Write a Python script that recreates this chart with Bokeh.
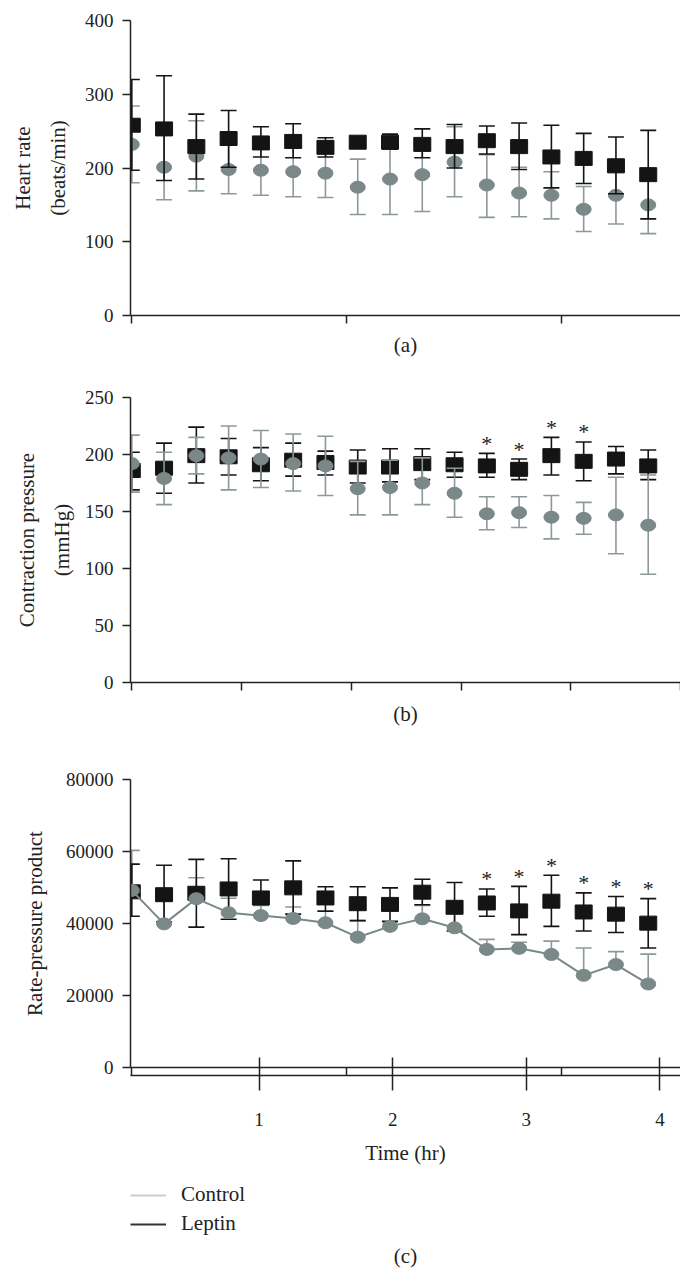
from bokeh.plotting import figure
from bokeh.models import Range1d, LinearAxis, FixedTicker, Title, Legend, LegendItem
from bokeh.layouts import column
from bokeh.embed import file_html
from bokeh.resources import INLINE
from bokeh.core.properties import value

# ---------------- data ----------------
idx = list(range(17))  # measurement index (one every ~15 min)

# (a) Heart rate (beats/min)
hr_leptin = [258, 253, 229, 240, 234, 236, 228, 235, 235, 232, 229, 237, 229, 215, 213, 203, 191]
hr_leptin_hi = [320, 325, 273, 278, 256, 260, 241, 240, 246, 253, 259, 257, 261, 258, 247, 242, 251]
hr_leptin_lo = [197, 183, 185, 201, 215, 214, 215, 230, 226, 214, 200, 219, 198, 173, 179, 165, 131]
hr_control = [232, 201, 216, 198, 197, 195, 193, 174, 185, 191, 208, 177, 166, 163, 144, 163, 150]
hr_control_hi = [284, 245, 264, 231, 231, 229, 226, 212, 226, 238, 256, 218, 201, 195, 175, 194, 189]
hr_control_lo = [180, 157, 169, 165, 163, 161, 160, 137, 137, 141, 161, 133, 134, 131, 114, 124, 111]

# (b) Contraction pressure (mmHg)
cp_leptin = [186, 188, 199, 198, 191, 195, 193, 189, 189, 192, 191, 190, 187, 199, 194, 196, 190]
cp_leptin_hi = [202, 210, 224, 214, 206, 210, 203, 204, 205, 205, 202, 201, 196, 215, 211, 207, 204]
cp_leptin_lo = [169, 166, 175, 182, 177, 181, 182, 175, 176, 178, 180, 180, 178, 182, 177, 183, 178]
cp_control = [192, 179, 199, 197, 196, 192, 190, 170, 171, 175, 166, 148, 149, 145, 144, 147, 138]
cp_control_hi = [217, 202, 215, 225, 221, 218, 216, 194, 195, 197, 188, 163, 163, 164, 158, 180, 182]
cp_control_lo = [167, 156, 183, 169, 171, 168, 164, 147, 147, 156, 145, 134, 136, 126, 130, 113, 95]
cp_sig = [11, 12, 13, 14]

# (c) Rate-pressure product
rpp_leptin = [48800, 48000, 48400, 49600, 47100, 49900, 47100, 45500, 45300, 48700, 44500, 45700, 43500, 46200, 43200, 42600, 40100]
rpp_leptin_hi = [56500, 56200, 57800, 58000, 52100, 57400, 50200, 50200, 49900, 52300, 51400, 49600, 50300, 53400, 48500, 47500, 46900]
rpp_leptin_lo = [42000, 40500, 39000, 41200, 45300, 42600, 43400, 40800, 40600, 45200, 37900, 42000, 36900, 39200, 37900, 37500, 33200]
rpp_control = [49200, 39900, 46900, 43000, 42200, 41400, 40200, 36200, 39200, 41300, 38800, 32800, 33100, 31400, 25600, 28600, 23200]
rpp_control_hi = [60300, 47500, 52700, 47000, 45000, 44600, 43500, 40800, 40400, 45000, 43800, 35600, 34800, 35100, 33200, 32200, 31500]
rpp_sig = [11, 12, 13, 14, 15, 16]

time_ticks = [1, 2, 3, 4]
series_names = ["Control", "Leptin"]
captions = ["(a)", "(b)", "(c)"]

# ---------------- style ----------------
FONT = "Liberation Serif"
CTRL = "#7b8888"
CTRL_BAR = "#8d9898"
LEP = "#141414"
AX = "#222222"
FRAME_W = 550
LEFT = 130
X_START, X_END = -0.04, 17.0


def base_panel(frame_h, ymax, yticks, ylabel, xticks, top, bottom, label_standoff):
    p = figure(frame_width=FRAME_W, frame_height=frame_h,
               x_range=Range1d(X_START, X_END), y_range=Range1d(0, ymax),
               output_backend="svg", toolbar_location=None, title=None,
               min_border_left=LEFT, min_border_right=0,
               min_border_top=top, min_border_bottom=bottom)
    p.outline_line_color = None
    p.grid.visible = False
    p.background_fill_color = "white"
    p.border_fill_color = "white"
    xa = p.xaxis[0]
    xa.ticker = FixedTicker(ticks=xticks)
    xa.major_label_overrides = {t: "" for t in xticks}
    xa.major_label_text_font_size = "19px"
    xa.major_label_standoff = 0
    xa.major_tick_in = 0
    xa.major_tick_out = 8
    xa.minor_tick_line_color = None
    ya = p.yaxis[0]
    ya.ticker = FixedTicker(ticks=yticks)
    ya.major_tick_in = 0
    ya.major_tick_out = 8
    ya.minor_tick_line_color = None
    ya.major_label_standoff = 9
    ya.major_label_text_font = FONT
    ya.major_label_text_font_size = "19px"
    ya.major_label_text_color = AX
    ya.axis_label = ylabel
    ya.axis_label_text_font = FONT
    ya.axis_label_text_font_size = "21px"
    ya.axis_label_text_font_style = "normal"
    ya.axis_label_text_color = AX
    ya.axis_label_text_line_height = 1.45
    ya.axis_label_standoff = label_standoff
    for ax in (xa, ya):
        ax.axis_line_color = AX
        ax.axis_line_width = 1.5
        ax.major_tick_line_color = AX
        ax.major_tick_line_width = 1.5
    return p


def bars(p, x, lo, hi, color):
    p.segment(x0=x, y0=lo, x1=x, y1=hi, line_color=color, line_width=1.6)
    p.scatter(x=x, y=hi, marker="dash", size=16, line_color=color, line_width=1.6)
    p.scatter(x=x, y=lo, marker="dash", size=16, line_color=color, line_width=1.6)


def markers_control(p, x, y):
    p.ellipse(x=x, y=y, width=15, height=12, width_units="screen", height_units="screen",
              fill_color=CTRL, line_color=CTRL)


def markers_leptin(p, x, y):
    p.rect(x=x, y=y, width=17, height=14, width_units="screen", height_units="screen",
           fill_color=LEP, line_color=LEP)


def stars(p, sig, hi):
    p.text(x=[idx[i] for i in sig], y=[hi[i] for i in sig], text=["*"] * len(sig),
           text_font=value(FONT), text_font_size="22px", text_align="center",
           text_baseline="middle", y_offset=-10, text_color=AX)


def caption(p, txt, standoff):
    p.add_layout(Title(text=txt, align="center", text_font=FONT, text_font_size="21px",
                       text_font_style="normal", text_color=AX, standoff=standoff), "below")


# ---------------- (a) ----------------
pa = base_panel(295, 400, [0, 100, 200, 300, 400], "Heart rate\n(beats/min)",
                [0, 6.65, 13.3], top=20, bottom=50, label_standoff=12)
bars(pa, idx, hr_control_lo, hr_control_hi, CTRL_BAR)
markers_control(pa, idx, hr_control)
bars(pa, idx, hr_leptin_lo, hr_leptin_hi, LEP)
markers_leptin(pa, idx, hr_leptin)
caption(pa, captions[0], 14)

# ---------------- (b) ----------------
pb = base_panel(285, 250, [0, 50, 100, 150, 200, 250], "Contraction pressure\n(mmHg)",
                [0, 3.4, 6.8, 10.2, 13.6, 17.0], top=32, bottom=58, label_standoff=8)
bars(pb, idx, cp_leptin_lo, cp_leptin_hi, LEP)
markers_leptin(pb, idx, cp_leptin)
bars(pb, idx, cp_control_lo, cp_control_hi, CTRL_BAR)
markers_control(pb, idx, cp_control)
stars(pb, cp_sig, cp_leptin_hi)
caption(pb, captions[1], 18)

# ---------------- (c) ----------------
pc = base_panel(288, 80000, [0, 20000, 40000, 60000, 80000], "Rate-pressure product",
                [0, 6.65, 13.3], top=39, bottom=115, label_standoff=16)
pc.xaxis[0].major_label_standoff = 10
t0 = 0.0374
pc.extra_x_ranges = {"time": Range1d(t0, t0 + FRAME_W / 133.6)}
tax = LinearAxis(x_range_name="time", ticker=FixedTicker(ticks=time_ticks))
tax.major_tick_in = 18
tax.major_tick_out = 15
tax.minor_tick_line_color = None
tax.major_label_standoff = 22
tax.major_label_text_font = FONT
tax.major_label_text_font_size = "19px"
tax.major_label_text_color = AX
tax.axis_label = "Time (hr)"
tax.axis_label_text_font = FONT
tax.axis_label_text_font_size = "21px"
tax.axis_label_text_font_style = "normal"
tax.axis_label_text_color = AX
tax.axis_label_standoff = 12
tax.axis_line_color = AX
tax.axis_line_width = 1.5
tax.major_tick_line_color = AX
tax.major_tick_line_width = 1.5
pc.add_layout(tax, "below")

# control error bars are one-sided (upper)
pc.segment(x0=idx, y0=rpp_control, x1=idx, y1=rpp_control_hi, line_color=CTRL_BAR, line_width=1.6)
pc.scatter(x=idx, y=rpp_control_hi, marker="dash", size=16, line_color=CTRL_BAR, line_width=1.6)
bars(pc, idx, rpp_leptin_lo, rpp_leptin_hi, LEP)
markers_leptin(pc, idx, rpp_leptin)
pc.line(x=idx, y=rpp_control, line_color=CTRL, line_width=2)
markers_control(pc, idx, rpp_control)
stars(pc, rpp_sig, rpp_leptin_hi)

# ---------------- legend + caption (c) ----------------
pd = figure(frame_width=FRAME_W, frame_height=54, x_range=Range1d(-1, 0), y_range=Range1d(-1, 0),
            output_backend="svg", toolbar_location=None, title=None,
            x_axis_location=None, y_axis_location=None,
            min_border_left=LEFT, min_border_right=0, min_border_top=0, min_border_bottom=36)
pd.outline_line_color = None
pd.grid.visible = False
# legend samples (the renderers themselves are hidden; only their legend glyphs are shown)
leg_ctrl = pd.line(x=idx, y=rpp_control, line_color="#c8cfcf", line_width=2, visible=False)
leg_lep = pd.line(x=idx, y=rpp_leptin, line_color="#333333", line_width=2, visible=False)
legend = Legend(items=[LegendItem(label=series_names[0], renderers=[leg_ctrl]),
                       LegendItem(label=series_names[1], renderers=[leg_lep])],
                location="top_left", orientation="vertical",
                glyph_width=36, glyph_height=24, label_standoff=15, label_height=24,
                label_text_font=FONT, label_text_font_size="21px", label_text_color=AX,
                spacing=4, padding=0, margin=0, border_line_color=None,
                background_fill_alpha=0)
pd.add_layout(legend)
caption(pd, captions[2], 10)

layout = column(pa, pb, pc, pd, spacing=0)
open("out.html", "w").write(file_html(layout, INLINE))
